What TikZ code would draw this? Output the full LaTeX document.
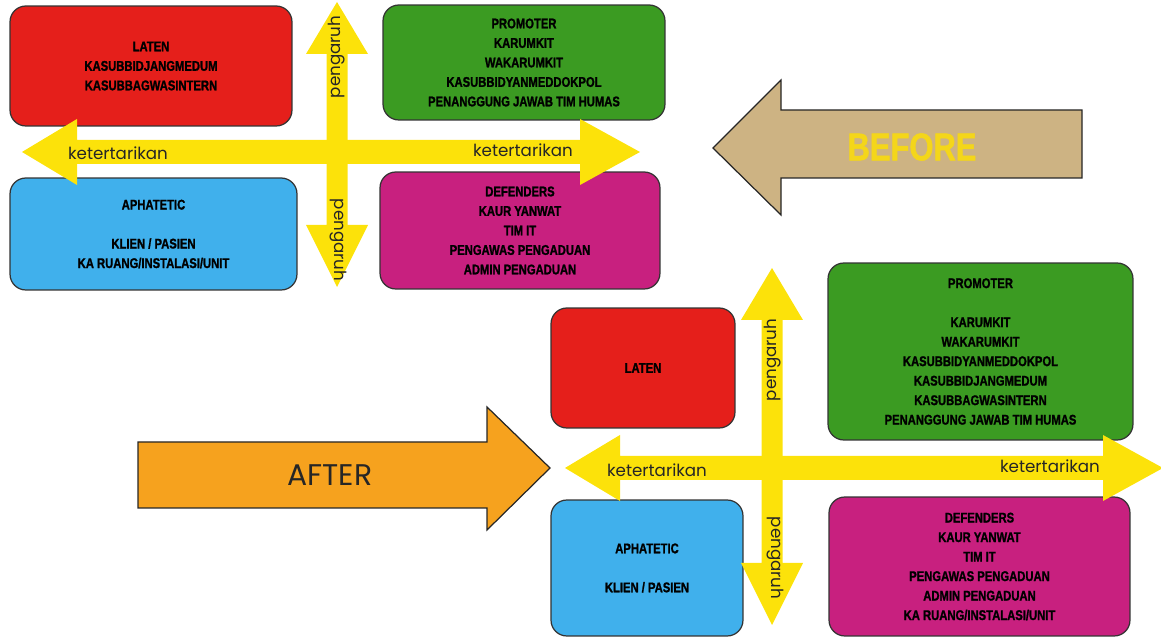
\documentclass[tikz,border=0pt]{standalone}
\usepackage{fontspec}
\setmainfont{Liberation Sans}
\newfontfamily\narrowfont[FakeStretch=0.8,FakeBold=1.3]{Liberation Sans}
\newfontfamily\roundfont{Poppins}

\definecolor{latenred}{HTML}{E51F1B}
\definecolor{promotergreen}{HTML}{3B9B22}
\definecolor{aphaticblue}{HTML}{40B0EC}
\definecolor{defendpink}{HTML}{C8207F}
\definecolor{axisyellow}{HTML}{FCE20A}
\definecolor{beforetan}{HTML}{CDB383}
\definecolor{beforeyellow}{HTML}{F4D61A}
\definecolor{afterorange}{HTML}{F6A21E}

% double arrows of the grid: {y}{left tip}{right tip} and {x}{top tip}{bottom tip}
\newcommand{\hdarrow}[3]{%
  \fill[axisyellow] (#2,#1) -- ({#2+55},{#1-33}) -- ({#2+55},{#1-12})
    -- ({#3-60},{#1-12}) -- ({#3-60},{#1-33}) -- (#3,#1)
    -- ({#3-60},{#1+33}) -- ({#3-60},{#1+12}) -- ({#2+55},{#1+12})
    -- ({#2+55},{#1+33}) -- cycle;}
\newcommand{\vdarrow}[3]{%
  \fill[axisyellow] (#1,#2) -- ({#1+31},{#2+52}) -- ({#1+10.5},{#2+52})
    -- ({#1+10.5},{#3-62}) -- ({#1+31},{#3-62}) -- (#1,#3)
    -- ({#1-31},{#3-62}) -- ({#1-10.5},{#3-62}) -- ({#1-10.5},{#2+52})
    -- ({#1-31},{#2+52}) -- cycle;}

\begin{document}
\begin{tikzpicture}[x=0.02cm,y=-0.02cm]
  \tikzset{
    quad/.style={draw=black!80, line width=0.7pt, rounded corners=9pt,
      align=center, text=black,
      font=\narrowfont\bfseries\fontsize{8}{11.1}\selectfont},
    axislabel/.style={font=\roundfont\fontsize{9.5}{11}\selectfont, text=black!85},
    bigarrow/.style={draw=black!85, line width=0.7pt, line join=miter}
  }
  \useasboundingbox (0,0) rectangle (1161,638);

  % before
  \node[quad, fill=latenred, minimum width=5.64cm, minimum height=2.4cm] (latenA) at (151,66)
    {LATEN\\KASUBBIDJANGMEDUM\\KASUBBAGWASINTERN};
  \node[quad, fill=promotergreen, minimum width=5.64cm, minimum height=2.3cm] (promoterA) at (524,62.5)
    {PROMOTER\\KARUMKIT\\WAKARUMKIT\\KASUBBIDYANMEDDOKPOL\\PENANGGUNG JAWAB TIM HUMAS};
  \node[quad, fill=aphaticblue, minimum width=5.74cm, minimum height=2.24cm] (aphaticA) at (153.5,234)
    {APHATETIC\\[0.39cm]KLIEN / PASIEN\\KA RUANG/INSTALASI/UNIT};
  \node[quad, fill=defendpink, minimum width=5.6cm, minimum height=2.34cm] (defendA) at (520,230.5)
    {DEFENDERS\\KAUR YANWAT\\TIM IT\\PENGAWAS PENGADUAN\\ADMIN PENGADUAN};
  \hdarrow{152}{22}{640}
  \vdarrow{337}{2}{287}
  \node[axislabel] (interestAl) at (118,153) {ketertarikan};
  \node[axislabel] (interestAr) at (523,150) {ketertarikan};
  \node[axislabel, rotate=90] (powerAt) at (337,57) {pengaruh};
  \node[axislabel, rotate=-90] (powerAb) at (338,240) {pengaruh};

  % after
  \node[quad, fill=latenred, minimum width=3.68cm, minimum height=2.4cm] (latenB) at (643,368) {LATEN};
  \node[quad, fill=promotergreen, minimum width=6.1cm, minimum height=3.54cm] (promoterB) at (980.5,351.5)
    {PROMOTER\\[0.39cm]KARUMKIT\\WAKARUMKIT\\KASUBBIDYANMEDDOKPOL\\KASUBBIDJANGMEDUM\\KASUBBAGWASINTERN\\PENANGGUNG JAWAB TIM HUMAS};
  \node[quad, fill=aphaticblue, minimum width=3.84cm, minimum height=2.72cm] (aphaticB) at (647,568)
    {APHATETIC\\[0.39cm]KLIEN / PASIEN};
  \node[quad, fill=defendpink, minimum width=6.02cm, minimum height=2.78cm] (defendB) at (979.5,566.5)
    {DEFENDERS\\KAUR YANWAT\\TIM IT\\PENGAWAS PENGADUAN\\ADMIN PENGADUAN\\KA RUANG/INSTALASI/UNIT};
  \hdarrow{468}{565}{1163}
  \vdarrow{772}{268}{625}
  \node[axislabel] (interestBl) at (657,470) {ketertarikan};
  \node[axislabel] (interestBr) at (1050,466) {ketertarikan};
  \node[axislabel, rotate=90] (powerBt) at (773,360) {pengaruh};
  \node[axislabel, rotate=-90] (powerBb) at (775,558) {pengaruh};

  % block arrows
  \draw[bigarrow, fill=beforetan] (713,148) -- (781,80) -- (781,110) -- (1082,110)
    -- (1082,178) -- (781,178) -- (781,215) -- cycle;
  \node[font=\narrowfont\bfseries\fontsize{22}{24}\selectfont, text=beforeyellow] (before) at (912,147) {BEFORE};
  \draw[bigarrow, fill=afterorange] (138,442) -- (487,442) -- (487,407) -- (550,468)
    -- (487,530) -- (487,508) -- (138,508) -- cycle;
  \node[font=\roundfont\fontsize{17}{20}\selectfont, text=black!85] (after) at (330,475) {AFTER};
\end{tikzpicture}
\end{document}
